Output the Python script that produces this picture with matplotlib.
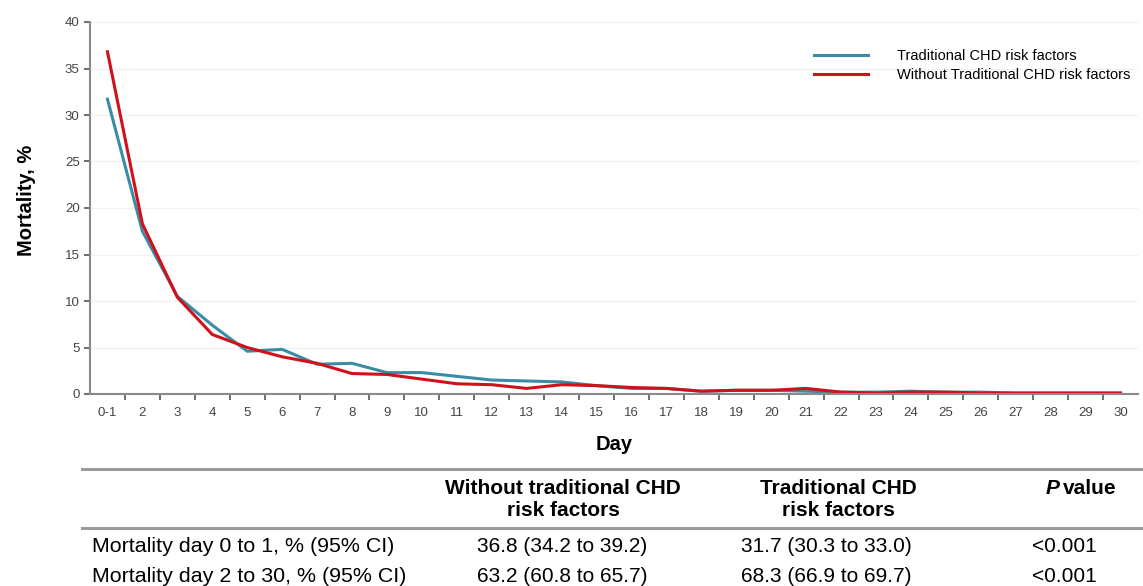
import numpy as np
import matplotlib.pyplot as plt
from matplotlib.lines import Line2D

plt.rcParams['font.family'] = ['Liberation Sans', 'DejaVu Sans']

# --- data ---
days = ['0-1'] + [str(d) for d in range(2, 31)]
traditional = [31.7, 17.5, 10.5, 7.4, 4.6, 4.8, 3.2, 3.3, 2.3, 2.3,
               1.9, 1.5, 1.4, 1.3, 0.9, 0.6, 0.6, 0.3, 0.4, 0.4,
               0.3, 0.2, 0.2, 0.3, 0.2, 0.2, 0.1, 0.1, 0.1, 0.1]
without_trad = [36.8, 18.3, 10.4, 6.4, 5.0, 4.0, 3.3, 2.2, 2.1, 1.6,
                1.1, 1.0, 0.6, 1.0, 0.9, 0.7, 0.6, 0.3, 0.4, 0.4,
                0.6, 0.2, 0.1, 0.2, 0.2, 0.1, 0.1, 0.1, 0.1, 0.1]

legend_labels = ['Traditional CHD risk factors', 'Without Traditional CHD risk factors']
col_headers = [['Without traditional CHD', 'risk factors'], ['Traditional CHD', 'risk factors']]
row_labels = ['Mortality day 0 to 1, % (95% CI)', 'Mortality day 2 to 30, % (95% CI)']
without_vals = ['36.8 (34.2 to 39.2)', '63.2 (60.8 to 65.7)']
trad_vals = ['31.7 (30.3 to 33.0)', '68.3 (66.9 to 69.7)']
p_vals = ['<0.001', '<0.001']

teal = '#3a8ca6'
red = '#d0111b'

fig = plt.figure(figsize=(11.43, 5.86), dpi=100)
ax = fig.add_axes([90 / 1143, 1 - 394 / 586, 1048 / 1143, 372 / 586])

x = np.arange(len(days))
ax.plot(x, traditional, color=teal, lw=2.2, solid_joinstyle='round')
ax.plot(x, without_trad, color=red, lw=2.2, solid_joinstyle='round')

ax.set_xlim(-0.5, len(days) - 0.5)
ax.set_ylim(0, 40)
ax.set_yticks(np.arange(0, 41, 5))
ax.set_xticks(x)
ax.set_xticklabels(days)
ax.set_xticks(np.arange(0.5, len(days) - 0.5, 1), minor=True)
ax.tick_params(axis='x', which='major', length=0, labelsize=9.5, colors='#444444', pad=9)
ax.tick_params(axis='x', which='minor', length=4, color='#555555', width=1.2, direction='out')
ax.tick_params(axis='y', length=4, color='#555555', width=1.2, labelsize=9.5, colors='#444444')
for s in ['top', 'right']:
    ax.spines[s].set_visible(False)
for s in ['left', 'bottom']:
    ax.spines[s].set_color('#8a8a8a')
    ax.spines[s].set_linewidth(1.5)
ax.yaxis.grid(True, color='#f2f2f2', lw=1)
ax.set_axisbelow(True)

ax.set_ylabel('Mortality, %', fontsize=14.5, fontweight='bold')
ax.yaxis.set_label_coords(-0.052, 0.52)
ax.set_xlabel('Day', fontsize=14.5, fontweight='bold', labelpad=12)

handles = [Line2D([], [], color=teal, lw=2.2), Line2D([], [], color=red, lw=2.2)]
ax.legend(handles, legend_labels, loc='upper left', bbox_to_anchor=(0.678, 0.962),
          frameon=False, fontsize=10.5, handlelength=3.7, handletextpad=2.0,
          labelspacing=0.35)

# --- table below the chart ---
def fx(px):
    return px / 1143

def fy(py):
    return 1 - py / 586

fig.add_artist(Line2D([fx(82), fx(1143)], [fy(469), fy(469)], color='#9a9a9a', lw=2.2))
fig.add_artist(Line2D([fx(82), fx(1143)], [fy(528), fy(528)], color='#9a9a9a', lw=2.2))

head_x = [fx(563), fx(838)]
val_x = [fx(562), fx(826)]
p_x = fx(1064)
for cx, h in zip(head_x, col_headers):
    for ly, line in zip([fy(488), fy(511)], h):
        fig.text(cx, ly, line, ha='center', va='center', fontsize=15, fontweight='bold')
fig.text(p_x - fx(4), fy(488), 'P', ha='right', va='center', fontsize=15,
         fontweight='bold', style='italic')
fig.text(p_x - fx(1), fy(488), 'value', ha='left', va='center', fontsize=15,
         fontweight='bold')

row_y = [fy(546), fy(577)]
for i, ry in enumerate(row_y):
    fig.text(fx(92), ry, row_labels[i], ha='left', va='center', fontsize=15.4)
    fig.text(val_x[0], ry, without_vals[i], ha='center', va='center', fontsize=15)
    fig.text(val_x[1], ry, trad_vals[i], ha='center', va='center', fontsize=15)
    fig.text(p_x, ry, p_vals[i], ha='center', va='center', fontsize=15)

fig.savefig('out.png', dpi=100)
